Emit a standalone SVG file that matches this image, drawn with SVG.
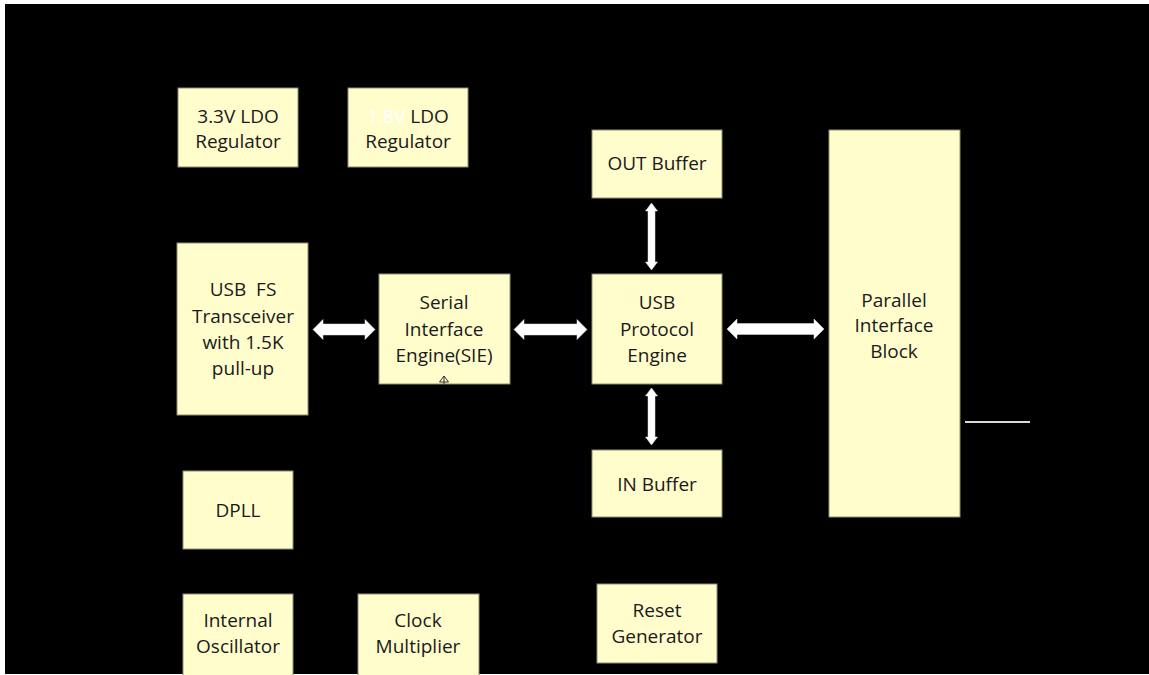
<svg xmlns="http://www.w3.org/2000/svg" width="1149" height="675" viewBox="0 0 1149 675">
<style>
.box{fill:#FFFDCC;stroke:#8f8f72;stroke-width:1}
.t{font-family:"Open Sans","Noto Sans",sans-serif;font-size:19px;fill:#1a1a1a;text-anchor:middle;white-space:pre}
.arr{fill:#ffffff;stroke:#e6e6e6;stroke-width:0.5}
</style>
<rect x="0" y="0" width="1149" height="675" fill="#ffffff"/>
<rect x="5" y="4" width="1144" height="670" fill="#000000"/>
<g id="ldo33"><rect class="box" x="178" y="88" width="120" height="79"/><text class="t" x="238" y="123">3.3V LDO</text><text class="t" x="238" y="148">Regulator</text></g>
<g id="ldo18"><rect class="box" x="348" y="88" width="120" height="79"/><text class="t" x="408" y="123"><tspan fill="#ffffff">1.8V</tspan> LDO</text><text class="t" x="408" y="148">Regulator</text></g>
<g id="usbfs"><rect class="box" x="177" y="243" width="131" height="172"/><text class="t" x="243" y="296" xml:space="preserve">USB  FS</text><text class="t" x="243" y="323">Transceiver</text><text class="t" x="243" y="349">with 1.5K</text><text class="t" x="243" y="375">pull-up</text></g>
<g id="sie"><rect class="box" x="379" y="274" width="131" height="110"/><text class="t" x="444" y="309">Serial</text><text class="t" x="444" y="336">Interface</text><text class="t" x="444" y="362">Engine(SIE)</text></g>
<g id="proto"><rect class="box" x="592" y="274" width="130" height="110"/><text class="t" x="657" y="309">USB</text><text class="t" x="657" y="336">Protocol</text><text class="t" x="657" y="362">Engine</text></g>
<g id="outbuf"><rect class="box" x="592" y="130" width="130" height="68"/><text class="t" x="657" y="170">OUT Buffer</text></g>
<g id="inbuf"><rect class="box" x="592" y="450" width="130" height="67"/><text class="t" x="657" y="491">IN Buffer</text></g>
<g id="parallel"><rect class="box" x="829" y="130" width="131" height="387"/><text class="t" x="894" y="307">Parallel</text><text class="t" x="894" y="332">Interface</text><text class="t" x="894" y="358">Block</text></g>
<g id="dpll"><rect class="box" x="183" y="471" width="110" height="78"/><text class="t" x="238" y="517">DPLL</text></g>
<g id="osc"><rect class="box" x="183" y="594" width="110" height="82"/><text class="t" x="238" y="627">Internal</text><text class="t" x="238" y="653">Oscillator</text></g>
<g id="clkmul"><rect class="box" x="358" y="594" width="121" height="82"/><text class="t" x="418" y="627">Clock</text><text class="t" x="418" y="653">Multiplier</text></g>
<g id="reset"><rect class="box" x="597" y="584" width="120" height="79"/><text class="t" x="657" y="617">Reset</text><text class="t" x="657" y="643">Generator</text></g>
<g id="connectors">
<path class="arr" d="M313,329.5 L323,319.5 L323,324 L365,324 L365,319.5 L375,329.5 L365,339.5 L365,335 L323,335 L323,339.5 Z"/>
<path class="arr" d="M514,329.5 L524,319.5 L524,324 L577,324 L577,319.5 L587,329.5 L577,339.5 L577,335 L524,335 L524,339.5 Z"/>
<path class="arr" d="M727,329 L737,319 L737,323.5 L814,323.5 L814,319 L824,329 L814,339 L814,334.5 L737,334.5 L737,339 Z"/>
<path class="arr" d="M651.5,203 L657.5,211 L655,211 L655,262 L657.5,262 L651.5,270 L645.5,262 L648,262 L648,211 L645.5,211 Z"/>
<path class="arr" d="M651.5,388 L657.5,396 L655,396 L655,437 L657.5,437 L651.5,445 L645.5,437 L648,437 L648,396 L645.5,396 Z"/>
<path d="M439.5,382 L444,376 L448.5,382 Z M444,376 L444,384" fill="none" stroke="#333333" stroke-width="1"/>
<line x1="965" y1="422" x2="1030" y2="422" stroke="#d9d9d9" stroke-width="2"/>
</g>
</svg>
